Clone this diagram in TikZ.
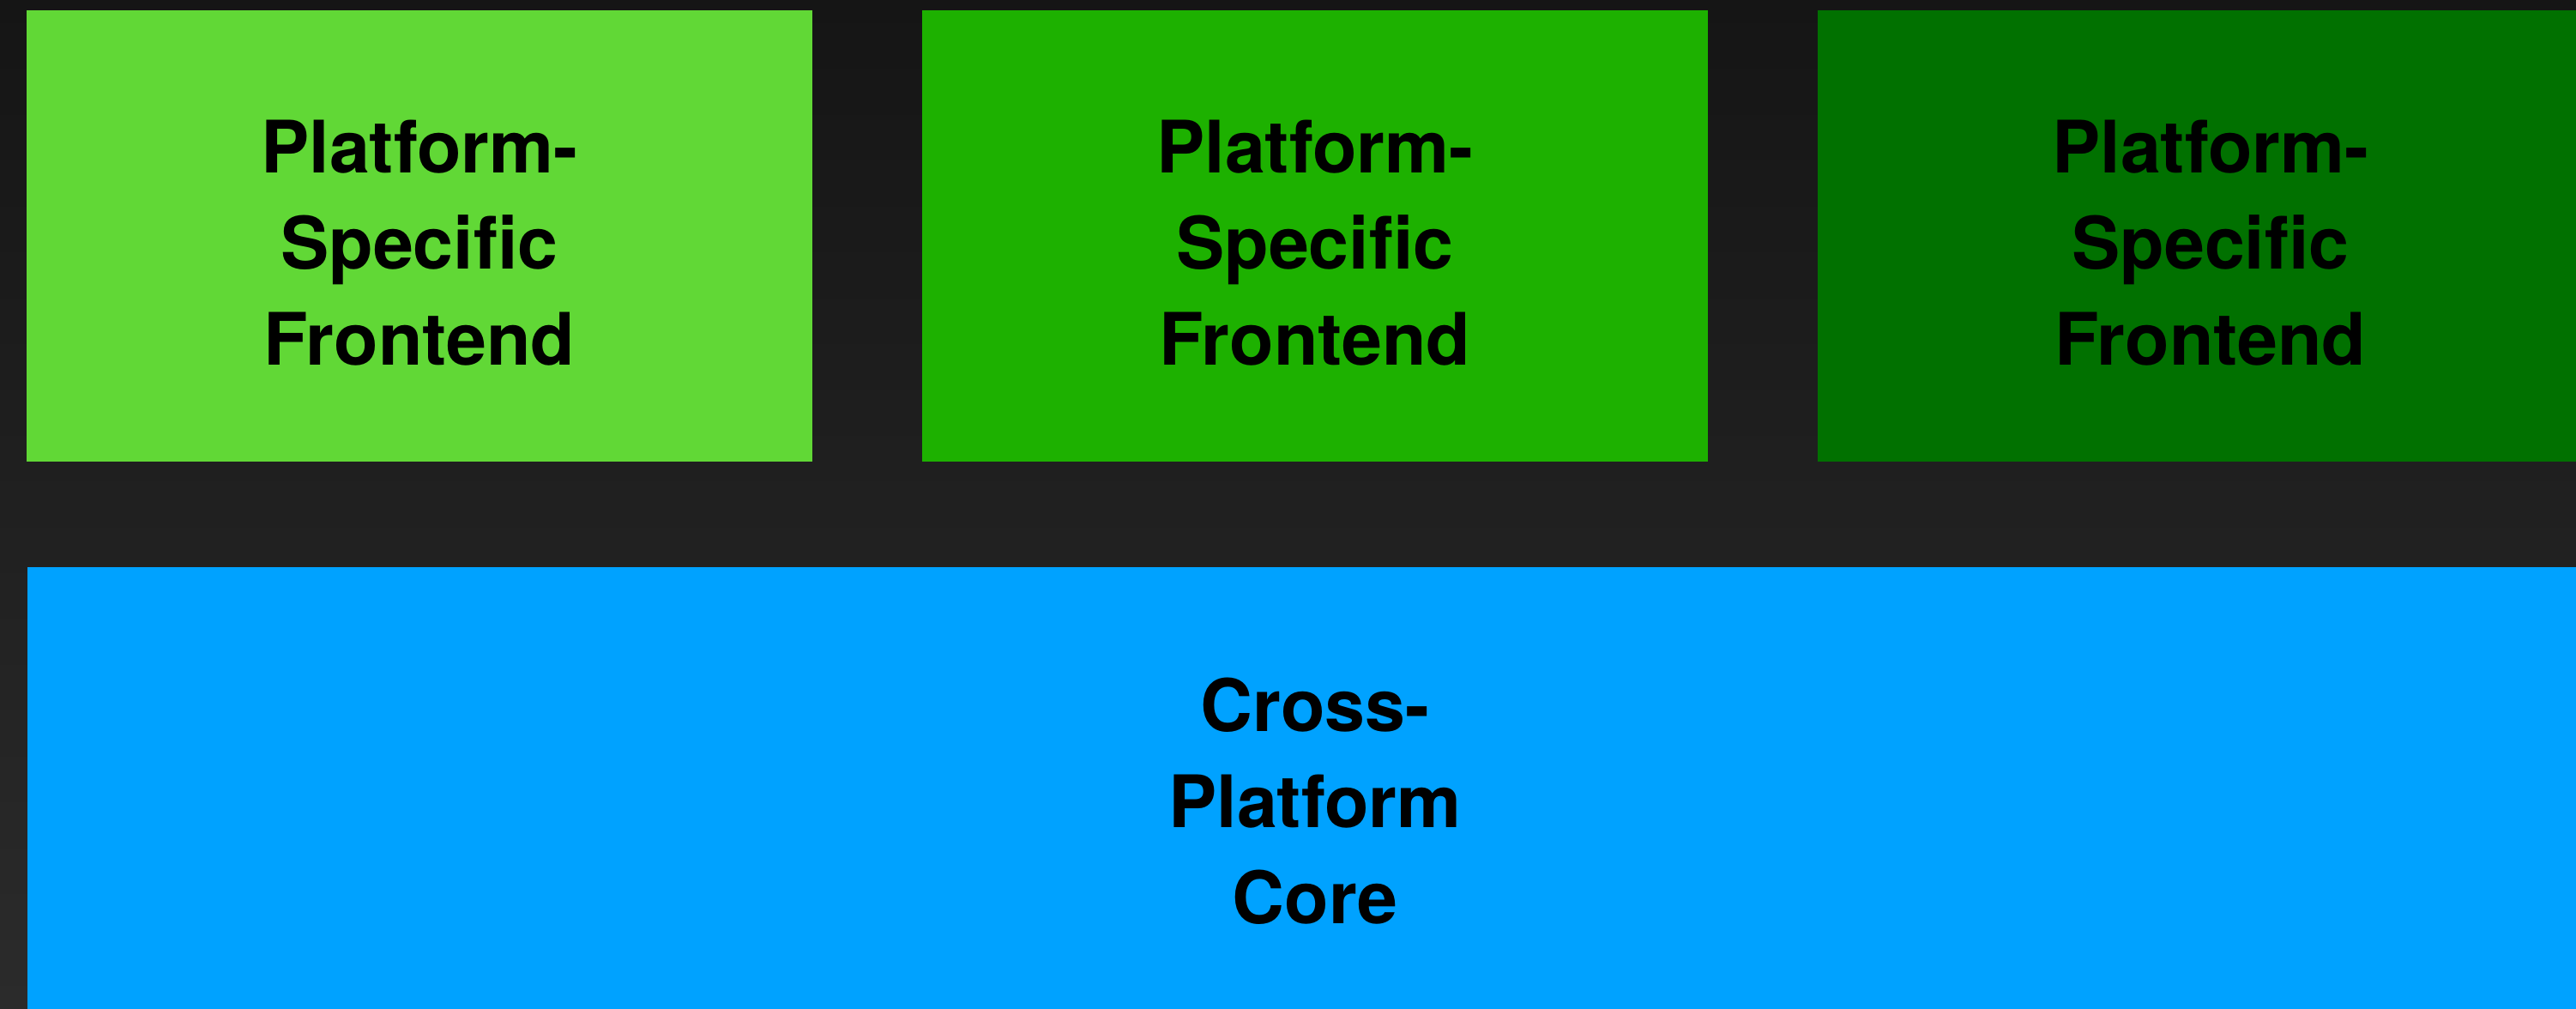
\documentclass[tikz,border=0pt]{standalone}
\usepackage{fontspec}
\setmainfont{TeX Gyre Heros}
\usepackage{tikz}
\usepackage{xcolor}
\usetikzlibrary{positioning}

\definecolor{bgtop}{HTML}{151515}
\definecolor{bgbot}{HTML}{2B2B2B}
\definecolor{lightgreen}{HTML}{61D836}
\definecolor{midgreen}{HTML}{1DB100}
\definecolor{darkgreen}{HTML}{017100}
\definecolor{coreblue}{HTML}{00A2FF}

\begin{document}
\begin{tikzpicture}
        \tikzstyle{layer}=[rectangle,inner sep=0pt,align=center,text=black,
          font=\fontsize{24}{31.9}\selectfont\bfseries]
        \tikzstyle{frontend}=[layer,minimum width=9.16cm,minimum height=5.26cm,text height=86pt]
        \useasboundingbox (0,0) rectangle (30.03,-11.75);
        \clip (0,0) rectangle (30.03,-11.75);
        \fill[top color=bgtop,bottom color=bgbot] (0,0) rectangle (30.03,-11.75);
       \begin{scope}
         \node [frontend,fill=lightgreen] (fe1) at (4.89,-2.75) {Platform-\\Specific\\Frontend};
         \node [frontend,fill=midgreen] (fe2) at (15.33,-2.75) {Platform-\\Specific\\Frontend};
         \node [frontend,fill=darkgreen] (fe3) at (25.77,-2.75) {Platform-\\Specific\\Frontend};
         \node [layer,fill=coreblue,minimum width=30.02cm,minimum height=5.46cm] (core) at (15.33,-9.34) {Cross-\\Platform\\Core};
        \end{scope}
      \end{tikzpicture}
\end{document}
